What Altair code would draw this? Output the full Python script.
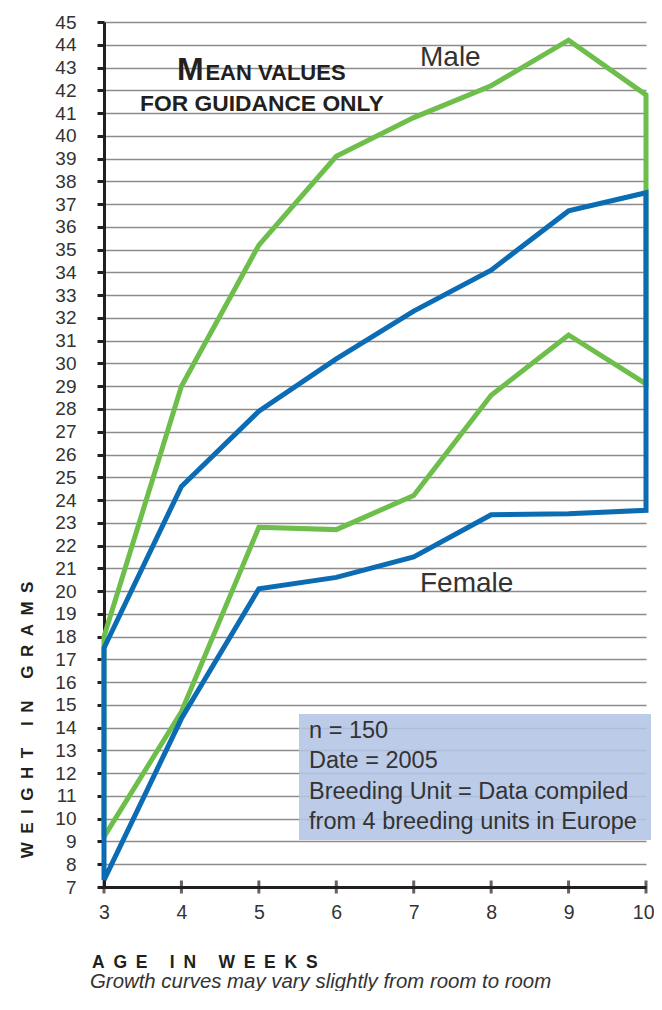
import altair as alt
import pandas as pd

# ---------------- data ----------------
weeks = [3, 4, 5, 6, 7, 8, 9, 10]
male_upper = [18.0, 29.0, 35.2, 39.1, 40.8, 42.2, 44.2, 41.8]
male_lower = [17.5, 24.6, 27.9, 30.2, 32.3, 34.1, 36.7, 37.5]
female_upper = [9.2, 14.7, 22.8, 22.7, 24.2, 28.6, 31.25, 29.1]
female_lower = [7.3, 14.4, 20.1, 20.6, 21.5, 23.35, 23.4, 23.55]
y_ticks = list(range(7, 46))

title_big = "M"
title_rest = "EAN VALUES"
title_line2 = "FOR GUIDANCE ONLY"
male_label = "Male"
female_label = "Female"
box_lines = ["n = 150", "Date = 2005", "Breeding Unit = Data compiled",
             "from 4 breeding units in Europe"]
y_title = "WEIGHT IN GRAMS"
x_title = "AGE IN WEEKS"
subtitle = "Growth curves may vary slightly from room to room"

# ---------------- styling ----------------
GREEN = "#6dbe4b"
BLUE = "#0b6cb4"
DARK = "#231f20"
TEXT = "#333333"
GRID = "#8c8c8c"
FONT = "Liberation Sans"

X = alt.Scale(domain=[3, 10], nice=False, zero=False)
Y = alt.Scale(domain=[7, 45], nice=False, zero=False)


def spaced(s):
    return "\u2002".join(list(s))


def band(lower, upper):
    seq = list(zip(weeks, lower)) + list(zip(weeks[::-1], upper[::-1])) + [(weeks[0], lower[0])]
    return pd.DataFrame({"week": [p[0] for p in seq], "grams": [p[1] for p in seq],
                         "order": list(range(len(seq)))})


green_df = band(female_upper, male_upper)
blue_df = band(female_lower, male_lower)

x_axis = alt.Axis(values=weeks, tickCount=len(weeks), format="d", ticks=False, tickSize=0,
                  domainWidth=3, domainColor=DARK, labelFontSize=19.5, labelFont=FONT,
                  labelColor=TEXT, labelPadding=16, grid=False, title=None,
                  labelFlush=False, labelOverlap=False,
                  labelAlign=alt.condition("datum.value == 10", alt.value("right"),
                                           alt.value("center")),
                  labelOffset=alt.condition("datum.value == 10", alt.value(8),
                                            alt.value(0)))
y_axis = alt.Axis(values=y_ticks, tickCount=len(y_ticks), format="d", tickSize=7,
                  tickWidth=3, tickColor=DARK, domainWidth=3, domainColor=DARK,
                  labelFontSize=19, labelFont=FONT, labelColor=TEXT, labelPadding=21,
                  grid=True, gridColor=GRID, gridWidth=1.3, title=None, labelFlush=False,
                  labelOverlap=False)


def xq(field="week"):
    return alt.X(f"{field}:Q", scale=X, axis=x_axis)


def yq(field="grams"):
    return alt.Y(f"{field}:Q", scale=Y, axis=y_axis)


green_line = alt.Chart(green_df).mark_line(color=GREEN, strokeWidth=5, strokeJoin="miter").encode(
    x=xq(), y=yq(), order="order:Q")
blue_line = alt.Chart(blue_df).mark_line(color=BLUE, strokeWidth=5, strokeJoin="miter").encode(
    x=xq(), y=yq(), order="order:Q")

xticks = alt.Chart(pd.DataFrame({"week": weeks, "grams": [7] * len(weeks)})).mark_tick(
    orient="vertical", size=13, thickness=3, color=DARK).encode(x=xq(), y=yq())

# info box
box_df = pd.DataFrame({"x": [5.518], "x2": [10.065], "y": [14.60], "y2": [9.064]})
box = alt.Chart(box_df).mark_rect(color="#b3c4e5", opacity=0.88).encode(
    x=xq("x"), x2="x2", y=yq("y"), y2="y2")

box_text_df = pd.DataFrame({"t": box_lines, "week": [5.648] * 4,
                            "grams": [13.545, 12.227, 10.866, 9.548]})
box_text = alt.Chart(box_text_df).mark_text(align="left", baseline="alphabetic", font=FONT,
                                            fontSize=23.5, color=TEXT).encode(
    x=xq(), y=yq(), text="t:N")


def label(txt, wk, gr, **kw):
    df = pd.DataFrame({"t": [txt], "week": [wk], "grams": [gr]})
    params = dict(align="left", baseline="alphabetic", font=FONT, color=TEXT)
    params.update(kw)
    return alt.Chart(df).mark_text(**params).encode(x=xq(), y=yq(), text="t:N")


texts = [
    label(title_big, 3.943, 42.45, fontSize=32, fontWeight="bold", color=DARK),
    label(title_rest, 4.31, 42.45, fontSize=22, fontWeight="bold", color=DARK),
    label(title_line2, 3.465, 41.09, fontSize=22.8, fontWeight="bold", color=DARK),
    label(male_label, 7.081, 43.07, fontSize=28),
    label(female_label, 7.081, 19.96, fontSize=28),
    label(spaced(y_title), 2.012, 14.34, fontSize=17, fontWeight="bold", color=DARK,
          angle=270, align="center", baseline="middle"),
    label(spaced(x_title), 2.845, 3.44, fontSize=17.5, fontWeight="bold", color=DARK),
    label(subtitle, 2.819, 2.56, fontSize=20.4, fontStyle="italic"),
]

chart = alt.layer(green_line, blue_line, box, box_text, xticks, *texts).properties(
    width=542, height=865,
    autosize=alt.AutoSizeParams(type="none"),
    padding={"left": 96, "top": 14, "right": 8, "bottom": 104},
).configure_view(stroke=None)

chart.save("out.html", embed_options={"renderer": "svg", "actions": False})
